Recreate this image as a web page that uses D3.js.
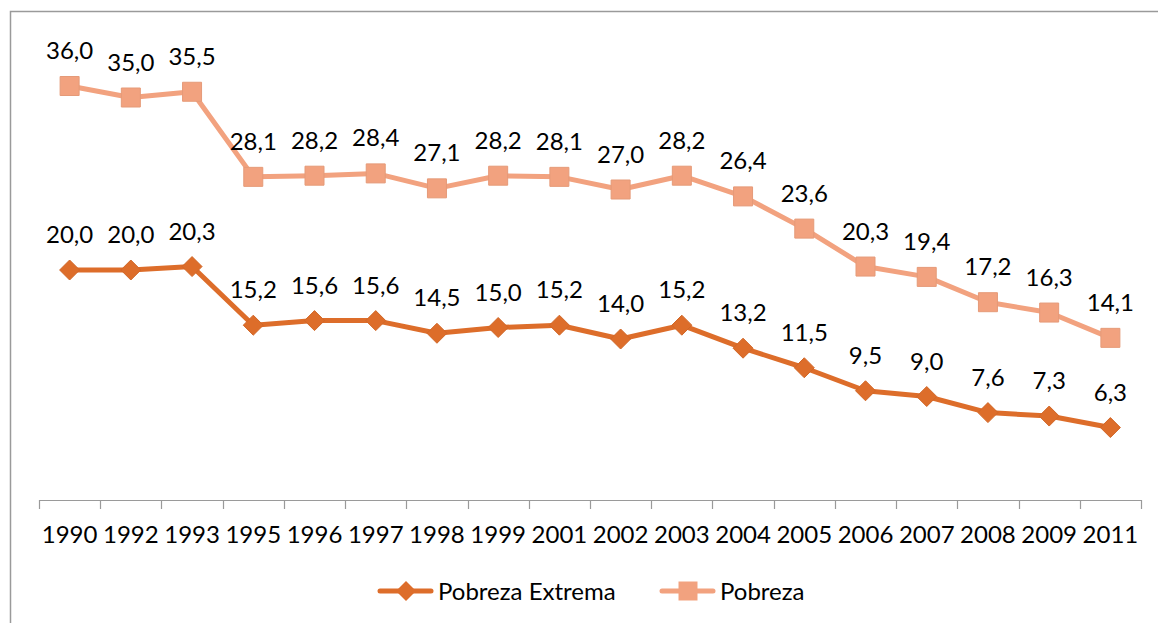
<!DOCTYPE html>
<html>
<head>
<meta charset="utf-8">
<script src="https://cdn.jsdelivr.net/npm/d3@7"></script>
<style>
  body { margin: 0; background: #fff; }
  svg { display: block; font-family: Lato, "Open Sans", sans-serif; }
</style>
</head>
<body>
<svg></svg>
<script>
// data
var years = ["1990", "1992", "1993", "1995", "1996", "1997", "1998", "1999", "2001",
             "2002", "2003", "2004", "2005", "2006", "2007", "2008", "2009", "2011"];
var pobrezaExtrema = [20.0, 20.0, 20.3, 15.2, 15.6, 15.6, 14.5, 15.0, 15.2,
                      14.0, 15.2, 13.2, 11.5, 9.5, 9.0, 7.6, 7.3, 6.3];
var pobreza = [36.0, 35.0, 35.5, 28.1, 28.2, 28.4, 27.1, 28.2, 28.1,
               27.0, 28.2, 26.4, 23.6, 20.3, 19.4, 17.2, 16.3, 14.1];
var seriesNames = ["Pobreza Extrema", "Pobreza"];

var W = 1158, H = 623;
var FS = 24;
var svg = d3.select("svg").attr("width", W).attr("height", H);

var colExt = "#dd6d2a", colPob = "#f2a27f";

// outer frame (runs past right/bottom edge like the original)
svg.append("rect")
  .attr("x", 10.5).attr("y", 11.5)
  .attr("width", W).attr("height", H)
  .attr("fill", "none").attr("stroke", "#9a9a9a").attr("stroke-width", 1.5);

var x = d3.scaleBand().domain(years).range([39, 1141]);
var y = d3.scaleLinear().domain([0, 40]).range([500, 40]);

// x axis
var ax = svg.append("g").attr("transform", "translate(0,500)")
  .call(d3.axisBottom(x).tickSize(0).tickPadding(26));
ax.select(".domain").attr("stroke", "#9a9a9a").attr("stroke-width", 1.2)
  .attr("d", "M" + x.range()[0] + ",0.5H" + x.range()[1]);
ax.selectAll(".tick text").attr("font-size", FS).attr("fill", "#000")
  .attr("font-family", "Lato, 'Open Sans', sans-serif");
// category boundary ticks
ax.selectAll(".bnd")
  .data(years.concat(["end"]))
  .enter().append("line")
  .attr("x1", function (d, i) { return Math.round(x.range()[0] + i * x.step()) + 0.5; })
  .attr("x2", function (d, i) { return Math.round(x.range()[0] + i * x.step()) + 0.5; })
  .attr("y1", 0).attr("y2", 9)
  .attr("stroke", "#9a9a9a").attr("stroke-width", 1.2);

function cx(d, i) { return x(years[i]) + x.bandwidth() / 2; }

var line = d3.line().x(function (d, i) { return cx(d, i); }).y(function (d) { return y(d); });

function drawSeries(vals, color, shape) {
  var g = svg.append("g");
  g.append("path").datum(vals)
    .attr("d", line).attr("fill", "none")
    .attr("stroke", color).attr("stroke-width", 5).attr("stroke-linejoin", "round");
  g.selectAll("path.m").data(vals).enter().append("path")
    .attr("class", "m")
    .attr("transform", function (d, i) { return "translate(" + cx(d, i) + "," + y(d) + ")"; })
    .attr("d", shape)
    .attr("fill", color)
    .attr("stroke", d3.color(color).darker(0.15)).attr("stroke-width", 1);
  g.selectAll("text").data(vals).enter().append("text")
    .attr("x", function (d, i) { return cx(d, i); })
    .attr("y", function (d) { return y(d) - 27; })
    .attr("text-anchor", "middle")
    .attr("font-size", FS).attr("fill", "#000")
    .text(function (d) { return d.toFixed(1).replace(".", ","); });
}

var diamond = "M0,-10L10,0L0,10L-10,0Z";
var square = "M-9.5,-9.5H9.5V9.5H-9.5Z";

drawSeries(pobreza, colPob, square);
drawSeries(pobrezaExtrema, colExt, diamond);

// legend
var legend = [
  { name: seriesNames[0], color: colExt, shape: diamond, x: 378 },
  { name: seriesNames[1], color: colPob, shape: square, x: 660 }
];
var lg = svg.selectAll("g.lg").data(legend).enter().append("g")
  .attr("class", "lg")
  .attr("transform", function (d) { return "translate(" + d.x + ",591)"; });
lg.append("line").attr("x1", 2).attr("x2", 53).attr("y1", 0).attr("y2", 0)
  .attr("stroke", function (d) { return d.color; }).attr("stroke-width", 5)
  .attr("stroke-linecap", "round");
lg.append("path").attr("transform", "translate(28,0)")
  .attr("d", function (d) { return d.shape; })
  .attr("fill", function (d) { return d.color; });
lg.append("text").attr("x", 60).attr("y", 9)
  .attr("font-size", FS).attr("fill", "#000")
  .text(function (d) { return d.name; });
</script>
</body>
</html>
